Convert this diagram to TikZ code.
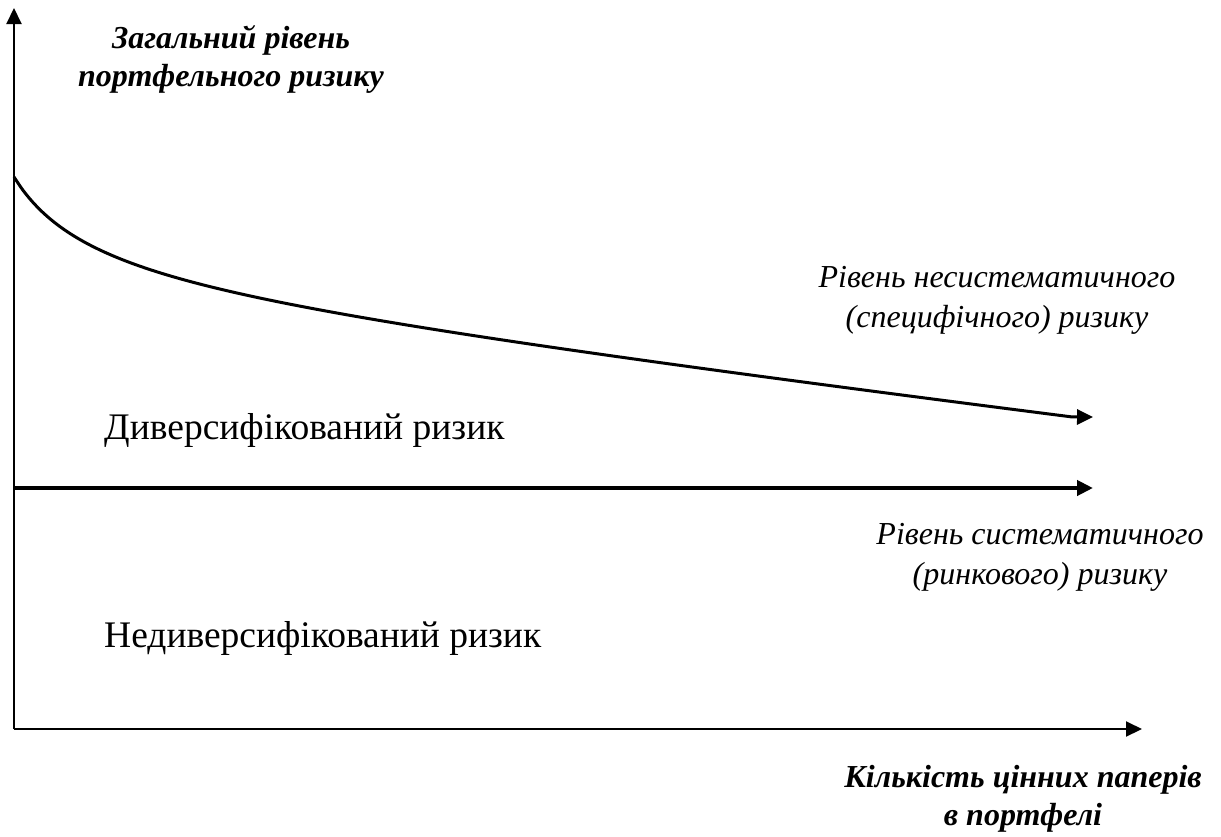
\documentclass[tikz,border=0pt]{standalone}
\usepackage{fontspec}
\setmainfont{Liberation Serif}
\usetikzlibrary{arrows.meta}
\begin{document}
\begin{tikzpicture}[x=1pt,y=-1pt,
  axis/.style={line width=2pt,-{Triangle[length=16pt,width=15pt]}},
  riskcurve/.style={line width=3pt,-{Triangle[length=16pt,width=15pt]}},
  sysline/.style={line width=4pt,-{Triangle[length=16pt,width=15pt]}},
  axislabel/.style={font=\fontsize{32}{38}\selectfont\bfseries\itshape,align=center,inner sep=0pt},
  levellabel/.style={font=\fontsize{32}{40}\selectfont\itshape,align=center,inner sep=0pt},
  zonelabel/.style={font=\fontsize{37.5}{40}\selectfont,anchor=west,inner sep=0pt}]
\useasboundingbox (0,0) rectangle (1221,836);

% axes
\coordinate (O) at (14,729);
\coordinate (ytop) at (14,8);
\coordinate (xend) at (1142,729);
\draw[axis] (O) -- (ytop);
\draw[axis] (O) -- (xend);

% systematic risk level
\coordinate (sysL) at (14,488);
\coordinate (sysR) at (1093,488);
\draw[sysline] (sysL) -- (sysR);

% total risk falling with the number of securities (hyperbola plus linear tail)
\coordinate (curveEnd) at (1093,417);
\draw[riskcurve] plot[domain=0:1058,samples=120,smooth]
  ({\x+14},{298.6-9825.3/(\x+80.8)+0.12*\x}) -- (curveEnd);

% labels
\node[axislabel] (ylab) at (231,59) {Загальний рівень\\портфельного ризику};
\node[levellabel] (unsys) at (997,300) {Рівень несистематичного\\(специфічного) ризику};
\node[zonelabel] (div) at (104,430) {Диверсифікований ризик};
\node[levellabel] (sys) at (1040,557) {Рівень систематичного\\(ринкового) ризику};
\node[zonelabel] (nondiv) at (104,638) {Недиверсифікований ризик};
\node[axislabel] (xlab) at (1023,799) {Кількість цінних паперів\\в портфелі};
\end{tikzpicture}
\end{document}
